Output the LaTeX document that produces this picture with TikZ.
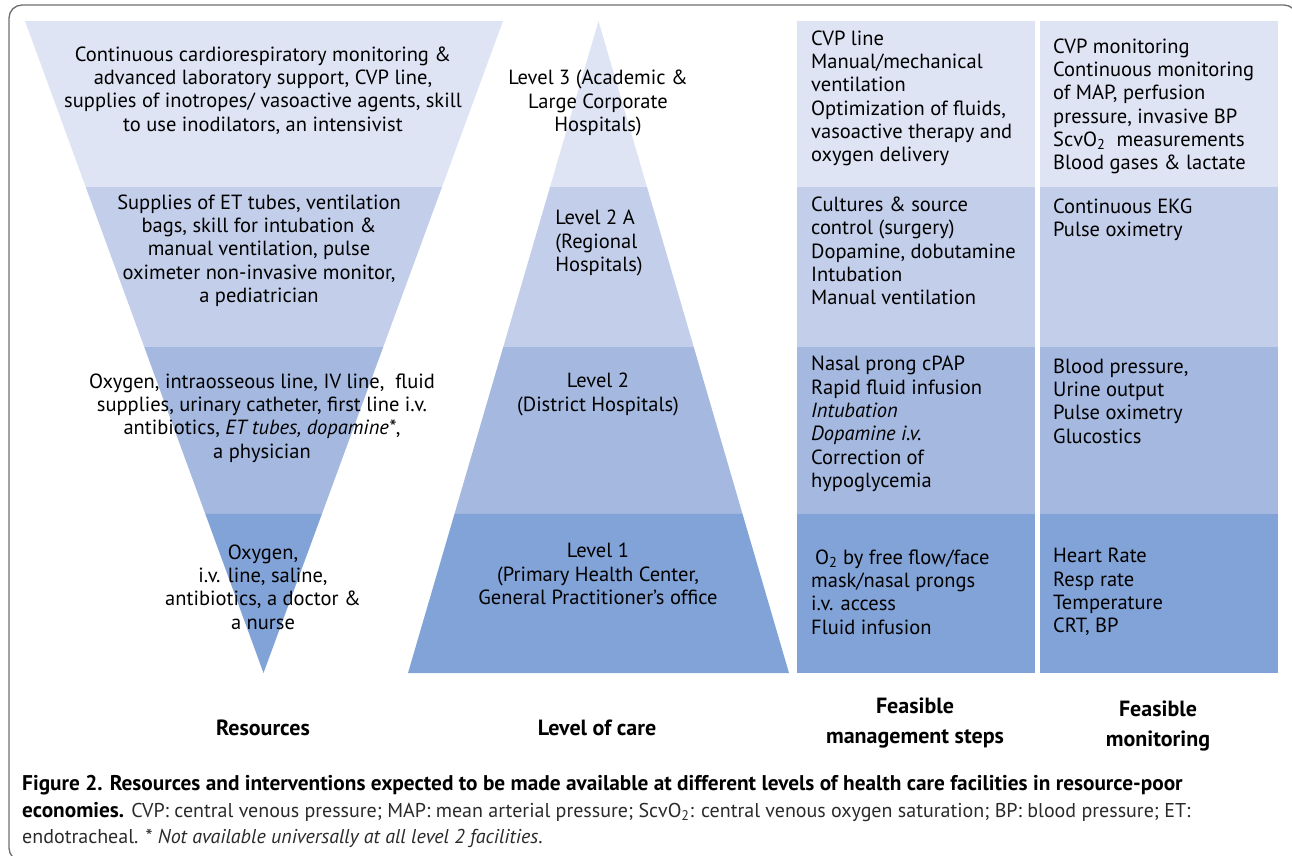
\documentclass[tikz,border=0pt]{standalone}
\usepackage{fontspec}
\setmainfont{PT Sans}
\usetikzlibrary{calc}
\definecolor{bandA}{HTML}{DFE4F4}
\definecolor{bandB}{HTML}{C3CFEA}
\definecolor{bandC}{HTML}{A4B8E0}
\definecolor{bandD}{HTML}{82A3D7}
\definecolor{framegray}{HTML}{6E6E6E}
\definecolor{captxt}{HTML}{2A2A2A}
\newcommand{\capbold}[1]{{\bfseries\fontsize{21.3}{26.5}\selectfont\color{black}#1}}
\begin{document}
\begin{tikzpicture}[x=1pt,y=-1pt,
  body/.style={font=\fontsize{20.5}{23.3}\selectfont, inner sep=0pt, text=black},
  ctr/.style={body, align=center},
  lft/.style={body, align=left, anchor=west},
  head/.style={font=\bfseries\fontsize{22}{30}\selectfont, inner sep=0pt, align=center},
  capt/.style={font=\fontsize{20}{26.5}\selectfont, inner sep=0pt, align=left, anchor=west, text=captxt}]
\useasboundingbox (0,0) rectangle (1292,855);
\begin{scope}
\clip (0,0) rectangle (1292,855);
\draw[framegray, line width=1.3pt, rounded corners=13pt] (9,5) rectangle (1297,861);
\end{scope}
% inverted triangle (resources)
\coordinate (RL) at (25,21);
\coordinate (RR) at (503,21);
\coordinate (RA) at (263.5,673);
\fill[bandA] (RL) -- (RR) -- ($(RR)!0.2546!(RA)$) -- ($(RL)!0.2546!(RA)$) -- cycle;
\fill[bandB] ($(RL)!0.2546!(RA)$) -- ($(RR)!0.2546!(RA)$) -- ($(RR)!0.5!(RA)$) -- ($(RL)!0.5!(RA)$) -- cycle;
\fill[bandC] ($(RL)!0.5!(RA)$) -- ($(RR)!0.5!(RA)$) -- ($(RR)!0.7561!(RA)$) -- ($(RL)!0.7561!(RA)$) -- cycle;
\fill[bandD] ($(RL)!0.7561!(RA)$) -- ($(RR)!0.7561!(RA)$) -- (RA) -- cycle;
% upright triangle (level of care)
\coordinate (LA) at (598.5,21);
\coordinate (LL) at (408,673);
\coordinate (LR) at (789,673);
\fill[bandA] (LA) -- ($(LA)!0.2546!(LR)$) -- ($(LA)!0.2546!(LL)$) -- cycle;
\fill[bandB] ($(LA)!0.2546!(LL)$) -- ($(LA)!0.2546!(LR)$) -- ($(LA)!0.5!(LR)$) -- ($(LA)!0.5!(LL)$) -- cycle;
\fill[bandC] ($(LA)!0.5!(LL)$) -- ($(LA)!0.5!(LR)$) -- ($(LA)!0.7561!(LR)$) -- ($(LA)!0.7561!(LL)$) -- cycle;
\fill[bandD] ($(LA)!0.7561!(LL)$) -- ($(LA)!0.7561!(LR)$) -- (LR) -- (LL) -- cycle;
% table columns
\foreach \xa/\xb in {797/1035, 1040/1278}{
  \fill[bandA] (\xa,21) rectangle (\xb,187);
  \fill[bandB] (\xa,187) rectangle (\xb,347);
  \fill[bandC] (\xa,347) rectangle (\xb,514);
  \fill[bandD] (\xa,514) rectangle (\xb,673);
}
% resources texts
\node[ctr] (r1) at (263,90.5) {Continuous cardiorespiratory monitoring \&\\advanced laboratory support, CVP line,\\supplies of inotropes/ vasoactive agents, skill\\to use inodilators, an intensivist};
\node[ctr] (r2) at (259,250.5) {Supplies of ET tubes, ventilation\\bags, skill for intubation \&\\manual ventilation, pulse\\oximeter non-invasive monitor,\\a pediatrician};
\node[ctr] (r3) at (262,418) {Oxygen, intraosseous line, IV line,\ \ fluid\\supplies, urinary catheter, first line i.v.\\antibiotics, \textit{ET tubes, dopamine*},\\a physician};
\node[ctr] (r4) at (263,587) {Oxygen,\\i.v. line, saline,\\antibiotics, a doctor \&\\a nurse};
% level texts
\node[ctr] (l3) at (598,103) {Level 3 (Academic \&\\Large Corporate\\Hospitals)};
\node[body, align=left] (l2a) at (599,243) {Level 2 A\\(Regional\\Hospitals)};
\node[ctr] (l2) at (598,394.5) {Level 2\\(District Hospitals)};
\node[ctr] (l1) at (598,574) {Level 1\\(Primary Health Center,\\General Practitioner’s office};
% management texts
\node[lft] (m1) at (811,98.5) {CVP line\\Manual/mechanical\\ventilation\\Optimization of fluids,\\vasoactive therapy and\\oxygen delivery};
\node[lft] (m2) at (811,251) {Cultures \& source\\control (surgery)\\Dopamine, dobutamine\\Intubation\\Manual ventilation};
\node[lft] (m3) at (811,424) {Nasal prong cPAP\\Rapid fluid infusion\\\textit{Intubation}\\\textit{Dopamine i.v.}\\Correction of\\hypoglycemia};
\node[lft] (m4) at (811,592) {\hspace{4pt}O\textsubscript{2} by free flow/face\\mask/nasal prongs\\i.v. access\\Fluid infusion};
% monitoring texts
\node[lft] (n1) at (1053,106.5) {CVP monitoring\\Continuous monitoring\\of MAP, perfusion\\pressure, invasive BP\\ScvO\textsubscript{2}\ \ measurements\\Blood gases \& lactate};
\node[lft] (n2) at (1053,219.5) {Continuous EKG\\Pulse oximetry};
\node[lft] (n3) at (1053,401) {Blood pressure,\\Urine output\\Pulse oximetry\\Glucostics};
\node[lft] (n4) at (1053,592) {Heart Rate\\Resp rate\\Temperature\\CRT, BP};
% column headings
\node[head] (hres) at (263,728) {Resources};
\node[head] (hlev) at (597,728) {Level of care};
\node[head] (hman) at (915,723) {Feasible\\management steps};
\node[head] (hmon) at (1158,726) {Feasible\\monitoring};
% caption
\node[capt] (cap) at (22,811.5) {\capbold{Figure 2. Resources and interventions expected to be made available at different levels of health care facilities in resource-poor}\\\capbold{economies.} CVP: central venous pressure; MAP: mean arterial pressure; ScvO\textsubscript{2}: central venous oxygen saturation; BP: blood pressure; ET:\\endotracheal. * \textit{Not available universally at all level 2 facilities}.};
\end{tikzpicture}
\end{document}
